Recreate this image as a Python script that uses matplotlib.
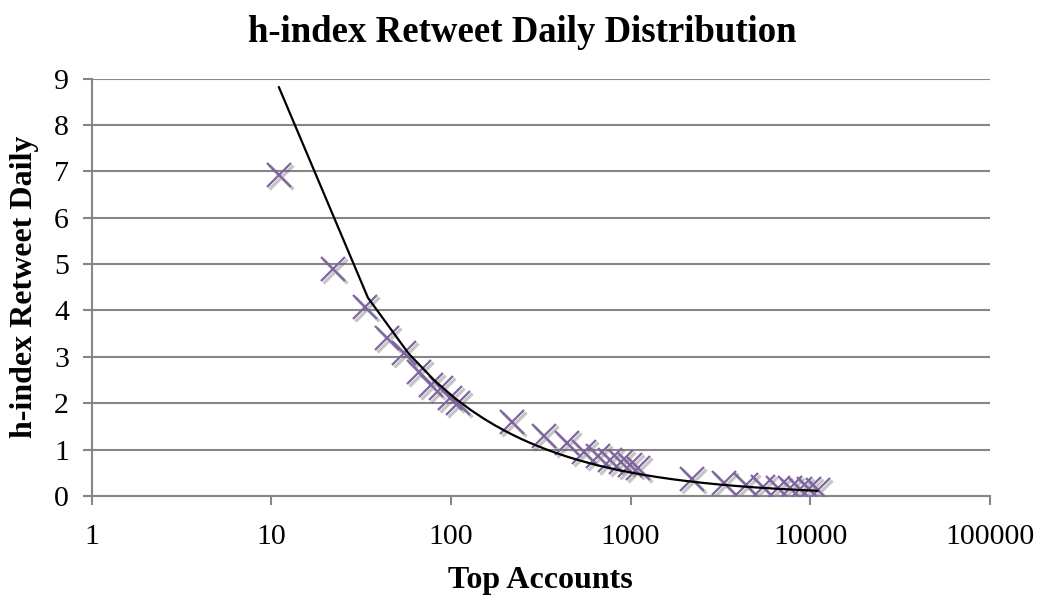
import numpy as np
import matplotlib.pyplot as plt
import matplotlib.transforms as mtransforms

plt.rcParams['font.family'] = ['Liberation Serif', 'DejaVu Serif']

# top N accounts and their daily retweet h-index
top_accounts = [11, 22, 33, 44, 55, 66, 77, 88, 99, 110,
                220, 330, 440, 550, 660, 770, 880, 990, 1100,
                2200, 3300, 4400, 5500, 6600, 7700, 8800, 9900, 11000]
h_index = [6.93, 4.89, 4.08, 3.41, 3.09, 2.68, 2.39, 2.32, 2.10, 2.00,
           1.60, 1.29, 1.13, 0.95, 0.85, 0.78, 0.72, 0.67, 0.60,
           0.36, 0.27, 0.23, 0.20, 0.18, 0.16, 0.15, 0.14, 0.12]

# power trendline y = a * x^b
trend_a = 40.3
trend_b = -0.634

x = np.array(top_accounts, dtype=float)
y = np.array(h_index)

# excel samples the trendline evenly in x
tx = np.linspace(x.min(), x.max(), 470)
ty = trend_a * tx ** trend_b

fig = plt.figure(figsize=(10.45, 6.04), dpi=100)
ax = fig.add_axes([0.088, 0.179, 0.859, 0.691])

purple = '#8064A2'
grid_col = '#868686'

shadow = mtransforms.offset_copy(ax.transData, fig=fig, x=2, y=-2, units='dots')
ax.plot(x, y, linestyle='none', marker='x', markersize=17, markeredgewidth=2.4,
        color='#444444', alpha=0.3, transform=shadow, zorder=2)
ax.plot(x, y, linestyle='none', marker='x', markersize=17, markeredgewidth=1.6,
        color=purple, zorder=3)
ax.plot(tx, ty, color='black', linewidth=1.6, zorder=4)

ax.set_xscale('log')
ax.set_xlim(1, 100000)
ax.set_ylim(0, 9)
ax.set_xticks([1, 10, 100, 1000, 10000, 100000])
ax.set_xticklabels(['1', '10', '100', '1000', '10000', '100000'])
ax.xaxis.set_minor_locator(plt.NullLocator())
ax.set_yticks(range(10))

ax.grid(axis='y', color=grid_col, linewidth=1.5, zorder=0)
ax.set_axisbelow(True)
for side in ['top', 'right']:
    ax.spines[side].set_visible(False)
for side in ['left', 'bottom']:
    ax.spines[side].set_color(grid_col)
    ax.spines[side].set_linewidth(1.5)
ax.tick_params(axis='both', direction='out', length=6.5, width=1.5, color=grid_col,
               labelsize=21.5)
ax.tick_params(axis='y', pad=10)
ax.tick_params(axis='x', pad=14)

fig.suptitle('h-index Retweet Daily Distribution', fontsize=26.5, fontweight='bold',
             x=0.5, y=0.947, va='center')
ax.set_xlabel('Top Accounts', fontsize=23, fontweight='bold', labelpad=11)
ax.set_ylabel('h-index Retweet Daily', fontsize=23, fontweight='bold', labelpad=11)

fig.savefig('out.png', dpi=100)
